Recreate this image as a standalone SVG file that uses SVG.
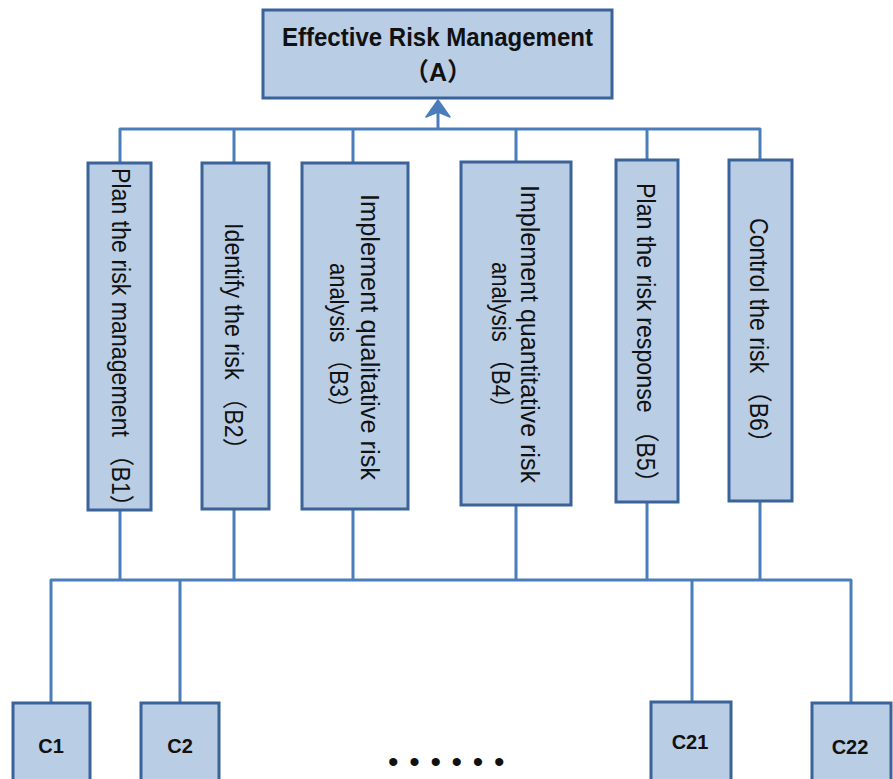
<svg xmlns="http://www.w3.org/2000/svg" width="893" height="779" viewBox="0 0 893 779">
<style>
.box{fill:#b9cde5;stroke:#3a639a;stroke-width:3}
.con{fill:none;stroke:#4a7ebb;stroke-width:3;stroke-linejoin:round}
.t{font-family:"Liberation Sans","Noto Sans CJK SC",sans-serif;fill:#111;font-size:25px}
.b{font-weight:bold}
.c{font-family:"Liberation Sans",sans-serif;font-weight:bold;font-size:20px;fill:#111;text-anchor:middle}
</style>
<rect width="893" height="779" fill="#fff"/>
<g id="connectors">
<path class="con" d="M120,163 V129 H760 V160"/>
<path class="con" d="M234,129 V163 M353,129 V163 M516,129 V162 M647,129 V160"/>
<path class="con" d="M438,129 V108"/>
<path d="M438,100 L450,117 L438,112 L426,117 Z" fill="#4a7ebb" stroke="#4a7ebb" stroke-width="1.5" stroke-linejoin="round"/>
<path class="con" d="M120,510 V580 M234,509 V580 M353,509 V580 M516,505 V580 M647,502 V580 M760,501 V580"/>
<path class="con" d="M51,703 V580 H851 V703"/>
<path class="con" d="M180,580 V703 M692,580 V702"/>
</g>
<g id="A">
<rect class="box" x="263" y="10" width="349" height="88"/>
<text class="t b" x="282" y="46" textLength="311" lengthAdjust="spacingAndGlyphs">Effective Risk Management</text>
<text class="t b" x="438" y="81" text-anchor="middle">（A）</text>
</g>
<g id="B1">
<rect class="box" x="88" y="163" width="63" height="347"/>
<text class="t" transform="translate(112,168) rotate(90)" textLength="350" lengthAdjust="spacingAndGlyphs">Plan the risk management （B1）</text>
</g>
<g id="B2">
<rect class="box" x="202" y="163" width="67" height="346"/>
<text class="t" transform="translate(225,223) rotate(90)" textLength="238" lengthAdjust="spacingAndGlyphs">Identify the risk （B2）</text>
</g>
<g id="B3">
<rect class="box" x="302" y="163" width="106" height="346"/>
<text class="t" transform="translate(361,194) rotate(90)" textLength="286" lengthAdjust="spacingAndGlyphs">Implement qualitative risk</text>
<text class="t" transform="translate(330,263) rotate(90)" textLength="156" lengthAdjust="spacingAndGlyphs">analysis （B3）</text>
</g>
<g id="B4">
<rect class="box" x="461" y="162" width="110" height="343"/>
<text class="t" transform="translate(521,185) rotate(90)" textLength="298" lengthAdjust="spacingAndGlyphs">Implement quantitative risk</text>
<text class="t" transform="translate(492,262) rotate(90)" textLength="157" lengthAdjust="spacingAndGlyphs">analysis （B4）</text>
</g>
<g id="B5">
<rect class="box" x="616" y="160" width="62" height="342"/>
<text class="t" transform="translate(637,183) rotate(90)" textLength="311" lengthAdjust="spacingAndGlyphs">Plan the risk response （B5）</text>
</g>
<g id="B6">
<rect class="box" x="729" y="160" width="63" height="341"/>
<text class="t" transform="translate(750,218) rotate(90)" textLength="236" lengthAdjust="spacingAndGlyphs">Control the risk （B6）</text>
</g>
<g id="C1">
<rect class="box" x="13" y="703" width="77" height="90"/>
<text class="c" x="51" y="753">C1</text>
</g>
<g id="C2">
<rect class="box" x="141" y="703" width="78" height="90"/>
<text class="c" x="180" y="753">C2</text>
</g>
<g id="C21">
<rect class="box" x="651" y="702" width="80" height="90"/>
<text class="c" x="690" y="749">C21</text>
</g>
<g id="C22">
<rect class="box" x="812" y="703" width="79" height="90"/>
<text class="c" x="850" y="754">C22</text>
</g>
<g id="ellipsis">
<text x="388" y="772" font-family="Liberation Sans,sans-serif" font-size="30" fill="#111" letter-spacing="10.7">••••••</text>
</g>
</svg>
